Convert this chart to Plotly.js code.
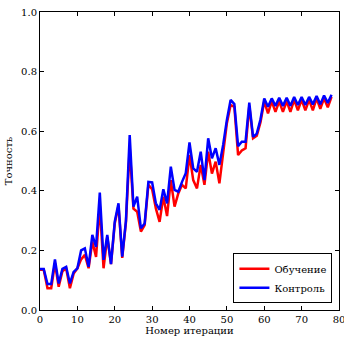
<!DOCTYPE html>
<html>
<head>
<meta charset="utf-8">
<script src="https://cdn.plot.ly/plotly-3.0.1.min.js"></script>
<style>html,body{margin:0;padding:0;background:#fff;}#chart{width:344px;height:338px;}</style>
</head>
<body>
<div id="chart"></div>
<script>
const iterations = Array.from({length: 79}, (_, i) => i);
const trainAcc = [0.135,0.135,0.073,0.073,0.157,0.078,0.13,0.14,0.073,0.122,
  0.14,0.17,0.185,0.14,0.23,0.178,0.35,0.14,0.245,0.154,
  0.29,0.35,0.175,0.295,0.544,0.34,0.33,0.263,0.285,0.42,
  0.405,0.341,0.296,0.38,0.315,0.436,0.347,0.391,0.42,0.408,
  0.52,0.436,0.408,0.487,0.42,0.531,0.458,0.498,0.425,0.531,
  0.627,0.688,0.682,0.52,0.535,0.543,0.685,0.576,0.585,0.63,
  0.70,0.66,0.70,0.665,0.70,0.665,0.70,0.665,0.705,0.67,
  0.705,0.67,0.705,0.67,0.71,0.675,0.71,0.68,0.715];
const testAcc = [0.138,0.138,0.087,0.087,0.17,0.089,0.138,0.145,0.089,0.128,
  0.14,0.2,0.207,0.145,0.252,0.212,0.394,0.168,0.252,0.154,
  0.296,0.358,0.179,0.3,0.587,0.347,0.38,0.274,0.29,0.43,
  0.428,0.358,0.336,0.405,0.358,0.481,0.403,0.397,0.43,0.459,
  0.562,0.475,0.464,0.531,0.436,0.576,0.509,0.543,0.487,0.554,
  0.638,0.705,0.691,0.55,0.565,0.565,0.696,0.581,0.592,0.64,
  0.71,0.682,0.71,0.685,0.712,0.685,0.712,0.685,0.715,0.688,
  0.715,0.688,0.715,0.69,0.718,0.69,0.72,0.695,0.722];
const seriesNames = ["Обучение", "Контроль"];
const xTicks = [0,10,20,30,40,50,60,70,80];
const yTicks = [0,0.2,0.4,0.6,0.8,1.0];

const font = {family: "DejaVu Serif, Liberation Serif, serif", size: 10, color: "#000"};
const traces = [
  {x: iterations, y: trainAcc, name: seriesNames[0], mode: "lines", line: {color: "#ff0000", width: 2.5}},
  {x: iterations, y: testAcc, name: seriesNames[1], mode: "lines", line: {color: "#0000ff", width: 2.5}}
];
const axisCommon = {showgrid: false, zeroline: false, showline: true, linecolor: "#000", linewidth: 1,
  mirror: "ticks", ticks: "inside", ticklen: 4, tickcolor: "#000", tickfont: font, ticklabeloverflow: "allow"};
const layout = {
  width: 344, height: 338,
  margin: {l: 40, r: 5, t: 12, b: 28},
  paper_bgcolor: "#fff", plot_bgcolor: "#fff",
  font: font,
  showlegend: true,
  legend: {x: 0.978, y: 0.023, xanchor: "right", yanchor: "bottom", bordercolor: "#000", borderwidth: 1,
    bgcolor: "#fff", font: {family: font.family, size: 10, color: "#000"}, tracegroupgap: 0},
  xaxis: Object.assign({}, axisCommon, {range: [0, 80], tickvals: xTicks, ticktext: xTicks.map(String),
    title: {text: "Номер итерации", font: font, standoff: 2}}),
  yaxis: Object.assign({}, axisCommon, {range: [0, 1], tickvals: yTicks, ticktext: yTicks.map(v => v.toFixed(1)),
    title: {text: "Точность", font: font, standoff: 6}})
};
Plotly.newPlot("chart", traces, layout, {displayModeBar: false, staticPlot: true});
</script>
</body>
</html>
